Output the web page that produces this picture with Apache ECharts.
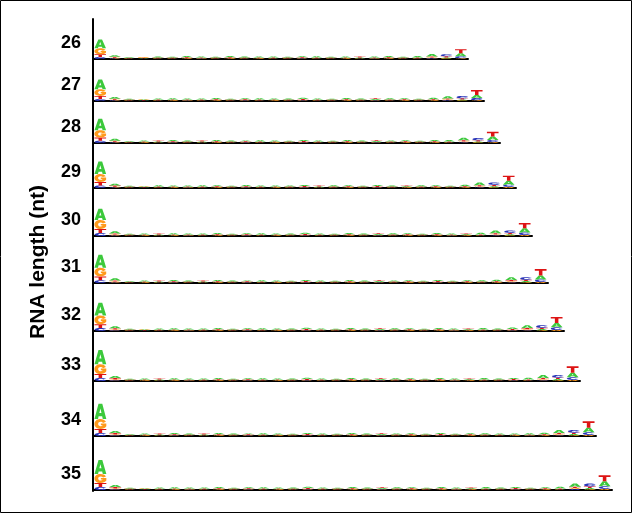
<!DOCTYPE html>
<html><head><meta charset="utf-8">
<script src="https://cdn.jsdelivr.net/npm/echarts@6/dist/echarts.min.js"></script>
<style>html,body{margin:0;padding:0;background:#fff}#c{width:632px;height:513px}</style>
</head><body><div id="c"></div>
<script>
// Row labels (RNA length, nt)
const rowLengths = [26, 27, 28, 29, 30, 31, 32, 33, 34, 35];
const letters = ['A', 'C', 'G', 'T'];
const axisTitle = 'RNA length (nt)';

// Information content (bits) per position: [A, C, G, T]
const logo26 = [
 [.55,.12,.38,.17],[.10,.03,.05,.06],
 [.04,.02,.03,.03],[.03,.02,.04,.03],[.06,.02,.03,.04],[.05,.02,.03,.04],[.07,.02,.04,.05],
 [.06,.03,.03,.04],[.05,.02,.03,.04],[.07,.02,.04,.05],[.06,.02,.03,.04],[.05,.02,.04,.04],
 [.06,.02,.03,.05],[.05,.02,.03,.04],[.06,.03,.04,.04],[.07,.02,.03,.05],[.05,.02,.03,.04],
 [.06,.02,.04,.04],[.05,.02,.03,.05],[.06,.03,.03,.04],[.07,.02,.04,.05],[.05,.02,.03,.04],
 [.09,.02,.03,.05],
 [.16,.04,.05,.07],[.06,.13,.04,.07],[.19,.12,.05,.25]
];
const logo27 = [
 [.60,.13,.42,.19],[.11,.03,.05,.06],
 [.05,.02,.03,.04],[.04,.02,.04,.03],[.06,.02,.03,.05],[.07,.02,.04,.04],[.05,.03,.03,.04],
 [.06,.02,.03,.05],[.08,.02,.04,.05],[.05,.02,.03,.04],[.06,.03,.04,.04],[.07,.02,.03,.05],
 [.05,.02,.04,.04],[.06,.02,.03,.04],[.08,.03,.04,.05],[.06,.02,.03,.05],[.05,.02,.03,.04],
 [.07,.02,.04,.05],[.06,.02,.03,.04],[.05,.03,.04,.05],[.08,.02,.03,.04],[.06,.02,.04,.05],
 [.05,.02,.03,.04],[.09,.02,.04,.05],
 [.15,.04,.05,.06],[.06,.14,.04,.07],[.20,.13,.05,.30]
];
const logo28 = [
 [.72,.14,.45,.20],[.12,.03,.05,.06],
 [.04,.02,.03,.03],[.06,.02,.04,.04],[.05,.02,.03,.05],[.07,.03,.04,.04],[.06,.02,.03,.04],
 [.05,.02,.03,.05],[.08,.02,.04,.05],[.06,.02,.03,.04],[.05,.03,.04,.04],[.07,.02,.03,.05],
 [.06,.02,.04,.04],[.05,.02,.03,.04],[.07,.03,.04,.05],[.06,.02,.03,.05],[.05,.02,.03,.04],
 [.08,.02,.04,.05],[.06,.02,.03,.04],[.05,.03,.04,.05],[.07,.02,.03,.04],[.06,.02,.04,.05],
 [.05,.02,.03,.04],[.07,.02,.04,.05],[.09,.02,.03,.05],
 [.16,.05,.05,.07],[.06,.14,.04,.07],[.21,.14,.05,.30]
];
const logo29 = [
 [.78,.16,.50,.22],[.12,.03,.05,.07],
 [.05,.02,.03,.04],[.04,.02,.04,.03],[.07,.02,.03,.05],[.06,.02,.04,.04],[.05,.03,.03,.04],
 [.07,.02,.03,.05],[.06,.02,.04,.05],[.05,.02,.03,.04],[.08,.03,.04,.04],[.06,.02,.03,.05],
 [.05,.02,.04,.04],[.07,.02,.03,.04],[.06,.03,.04,.05],[.05,.02,.03,.05],[.08,.02,.03,.04],
 [.06,.02,.04,.05],[.05,.02,.03,.04],[.07,.03,.04,.05],[.06,.02,.03,.04],[.05,.02,.04,.05],
 [.08,.02,.03,.04],[.06,.02,.04,.05],[.05,.02,.03,.04],[.10,.02,.04,.05],
 [.17,.05,.05,.07],[.07,.15,.04,.08],[.24,.15,.06,.32]
];
const logo30 = [
 [.70,.19,.56,.25],[.13,.03,.06,.07],
 [.05,.02,.03,.04],[.06,.02,.04,.04],[.05,.02,.03,.05],[.07,.02,.04,.04],[.05,.03,.03,.04],
 [.06,.02,.03,.05],[.08,.02,.04,.05],[.05,.02,.03,.04],[.06,.03,.04,.04],[.07,.02,.03,.05],
 [.05,.02,.04,.04],[.06,.02,.03,.04],[.08,.03,.04,.05],[.06,.02,.03,.05],[.05,.02,.03,.04],
 [.07,.02,.04,.05],[.06,.02,.03,.04],[.05,.03,.04,.05],[.08,.02,.03,.04],[.06,.02,.04,.05],
 [.05,.02,.03,.04],[.07,.02,.04,.05],[.06,.03,.03,.04],[.05,.02,.04,.05],[.10,.02,.03,.05],
 [.17,.05,.05,.07],[.07,.15,.04,.08],[.26,.16,.06,.34]
];
const logo31 = [
 [.80,.17,.55,.24],[.13,.03,.06,.07],
 [.04,.02,.03,.03],[.06,.02,.04,.04],[.05,.02,.03,.05],[.07,.03,.04,.04],[.06,.02,.03,.04],
 [.05,.02,.03,.05],[.08,.02,.04,.05],[.06,.02,.03,.04],[.05,.03,.04,.04],[.07,.02,.03,.05],
 [.06,.02,.04,.04],[.05,.02,.03,.04],[.07,.03,.04,.05],[.06,.02,.03,.05],[.05,.02,.03,.04],
 [.08,.02,.04,.05],[.06,.02,.03,.04],[.05,.03,.04,.05],[.07,.02,.03,.04],[.06,.02,.04,.05],
 [.05,.02,.03,.04],[.07,.03,.04,.05],[.05,.02,.03,.04],[.06,.02,.04,.05],[.08,.02,.03,.04],
 [.09,.02,.04,.05],
 [.18,.05,.06,.07],[.07,.16,.05,.08],[.25,.16,.06,.40]
];
const logo32 = [
 [.80,.18,.55,.24],[.13,.04,.06,.07],
 [.05,.02,.03,.04],[.04,.02,.04,.03],[.06,.02,.03,.05],[.07,.02,.04,.04],[.05,.03,.03,.04],
 [.06,.02,.03,.05],[.08,.02,.04,.05],[.05,.02,.03,.04],[.06,.03,.04,.04],[.07,.02,.03,.05],
 [.05,.02,.04,.04],[.06,.02,.03,.04],[.08,.03,.04,.05],[.06,.02,.03,.05],[.05,.02,.03,.04],
 [.07,.02,.04,.05],[.06,.02,.03,.04],[.05,.03,.04,.05],[.08,.02,.03,.04],[.06,.02,.04,.05],
 [.05,.02,.03,.04],[.07,.02,.04,.05],[.06,.03,.03,.04],[.05,.02,.04,.05],[.09,.02,.03,.05],
 [.06,.02,.03,.04],[.10,.03,.04,.05],
 [.18,.05,.06,.07],[.07,.16,.05,.08],[.27,.17,.06,.38]
];
const logo33 = [
 [.90,.19,.60,.25],[.14,.04,.06,.08],
 [.05,.02,.03,.04],[.06,.02,.04,.04],[.05,.02,.03,.05],[.07,.02,.04,.04],[.05,.03,.03,.04],
 [.06,.02,.03,.05],[.08,.02,.04,.05],[.05,.02,.03,.04],[.06,.03,.04,.04],[.07,.02,.03,.05],
 [.05,.02,.04,.04],[.06,.02,.03,.04],[.08,.03,.04,.05],[.06,.02,.03,.05],[.05,.02,.03,.04],
 [.07,.02,.04,.05],[.06,.02,.03,.04],[.05,.03,.04,.05],[.08,.02,.03,.04],[.06,.02,.04,.05],
 [.05,.02,.03,.04],[.07,.02,.04,.05],[.06,.03,.03,.04],[.05,.02,.04,.05],[.09,.02,.03,.05],
 [.06,.02,.03,.04],[.07,.03,.04,.05],[.10,.02,.03,.05],
 [.19,.05,.06,.08],[.08,.17,.05,.08],[.28,.18,.06,.40]
];
const logo34 = [
 [.95,.19,.62,.25],[.14,.04,.06,.08],
 [.04,.02,.03,.03],[.06,.02,.04,.04],[.05,.02,.03,.05],[.07,.03,.04,.04],[.06,.02,.03,.04],
 [.05,.02,.03,.05],[.08,.02,.04,.05],[.06,.02,.03,.04],[.05,.03,.04,.04],[.07,.02,.03,.05],
 [.06,.02,.04,.04],[.05,.02,.03,.04],[.07,.03,.04,.05],[.06,.02,.03,.05],[.05,.02,.03,.04],
 [.08,.02,.04,.05],[.06,.02,.03,.04],[.05,.03,.04,.05],[.07,.02,.03,.04],[.06,.02,.04,.05],
 [.05,.02,.03,.04],[.07,.03,.04,.05],[.05,.02,.03,.04],[.06,.02,.04,.05],[.08,.02,.03,.04],
 [.06,.02,.03,.05],[.05,.02,.04,.04],[.07,.03,.03,.04],[.10,.02,.04,.05],
 [.19,.05,.06,.08],[.08,.17,.05,.08],[.28,.18,.06,.40]
];
const logo35 = [
 [.88,.19,.56,.25],[.14,.04,.06,.08],
 [.05,.02,.03,.04],[.04,.02,.04,.03],[.06,.02,.03,.05],[.07,.02,.04,.04],[.05,.03,.03,.04],
 [.06,.02,.03,.05],[.08,.02,.04,.05],[.05,.02,.03,.04],[.06,.03,.04,.04],[.07,.02,.03,.05],
 [.05,.02,.04,.04],[.06,.02,.03,.04],[.08,.03,.04,.05],[.06,.02,.03,.05],[.05,.02,.03,.04],
 [.07,.02,.04,.05],[.06,.02,.03,.04],[.05,.03,.04,.05],[.08,.02,.03,.04],[.06,.02,.04,.05],
 [.05,.02,.03,.04],[.07,.02,.04,.05],[.06,.03,.03,.04],[.05,.02,.04,.05],[.09,.02,.03,.05],
 [.06,.02,.03,.04],[.07,.03,.04,.05],[.05,.02,.03,.04],[.06,.02,.04,.05],[.10,.02,.03,.05],
 [.20,.06,.06,.08],[.08,.18,.05,.09],[.30,.18,.06,.38]
];
const logos = [logo26, logo27, logo28, logo29, logo30, logo31, logo32, logo33, logo34, logo35];

// ---- layout & style ----
const BASELINES = [59, 101, 143, 188, 236, 283, 331, 381, 436, 490];
const AXIS_X = 93, ROW_H = 32, YMAX = 2;
const COLORS = { A: '#3cc93c', C: '#2a35b8', G: '#ff9a1c', T: '#dd1414' };
const PATHS = {
  A: 'M34,0 L66,0 L100,100 L70,100 L65,82 L35,82 L30,100 L0,100 Z M41,60 L59,60 L50,30 Z',
  C: 'M97,28 C86,8 70,0 50,0 C20,0 0,22 0,50 C0,78 20,100 50,100 C70,100 86,92 97,72 L72,60 C68,68 61,72 52,72 C40,72 31,63 31,50 C31,37 40,28 52,28 C61,28 68,32 72,40 Z',
  G: 'M97,28 C86,8 70,0 50,0 C20,0 0,22 0,50 C0,78 20,100 50,100 C72,100 90,90 100,72 L100,44 L54,44 L54,62 L70,62 C66,69 60,73 52,73 C40,73 31,63 31,50 C31,37 40,28 52,28 C61,28 68,32 72,40 Z',
  T: 'M0,0 L100,0 L100,28 L65,28 L65,100 L35,100 L35,28 L0,28 Z'
};
const FONT = '"Liberation Sans", Arial, sans-serif';

function renderLogo(params, api) {
  const pos = api.value(0);
  const vals = [api.value(1), api.value(2), api.value(3), api.value(4)];
  const order = [0, 1, 2, 3].sort((a, b) => vals[a] - vals[b]);
  const cx = api.coord([pos, 0])[0];
  const w = api.size([1, 0])[0] * 0.8;
  let cum = 0;
  const children = [];
  order.forEach(i => {
    const y0 = api.coord([pos, cum])[1];
    cum += vals[i];
    const y1 = api.coord([pos, cum])[1];
    const L = letters[i];
    children.push({
      type: 'path',
      shape: { pathData: PATHS[L], x: cx - w / 2, y: y1, width: w, height: Math.max(y0 - y1, 0.3), layout: 'cover' },
      style: { fill: COLORS[L] }
    });
  });
  return { type: 'group', children };
}

const grids = [], xAxes = [], yAxes = [], series = [];
rowLengths.forEach((n, i) => {
  const end = 52 + 16 * n;
  grids.push({ left: AXIS_X, top: BASELINES[i] - ROW_H, width: end - AXIS_X, height: ROW_H });
  xAxes.push({
    gridIndex: i, type: 'value', min: 0.5, max: n + 0.5,
    axisLine: { show: true, onZero: false, lineStyle: { color: '#000', width: 2 } },
    axisTick: { show: false }, axisLabel: { show: false }, splitLine: { show: false }
  });
  yAxes.push({
    gridIndex: i, type: 'value', min: 0, max: YMAX, interval: 1,
    axisLine: { show: false }, axisTick: { show: false }, splitLine: { show: false },
    axisLabel: {
      formatter: v => (v === 1 ? String(n) : ''),
      fontSize: 18, fontWeight: 'bold', color: '#000', fontFamily: FONT, margin: 12
    }
  });
  series.push({
    type: 'custom', xAxisIndex: i, yAxisIndex: i, silent: true, clip: false,
    renderItem: renderLogo,
    data: logos[i].map((t, k) => [k + 1, t[0], t[1], t[2], t[3]])
  });
});
// full-height vertical axis line
const gi = rowLengths.length;
grids.push({ left: AXIS_X, top: 19, width: 1, bottom: 513 - 491 });
xAxes.push({ gridIndex: gi, type: 'value', show: false });
yAxes.push({
  gridIndex: gi, type: 'value', min: 0, max: 1,
  axisLine: { show: true, lineStyle: { color: '#000', width: 2 } },
  axisTick: { show: false }, axisLabel: { show: false }, splitLine: { show: false }
});
// axis title (centered a bit lower than the axis line)
grids.push({ left: AXIS_X, top: 33, width: 1, bottom: 513 - 491 });
xAxes.push({ gridIndex: gi + 1, type: 'value', show: false });
yAxes.push({
  gridIndex: gi + 1, type: 'value', min: 0, max: 1,
  axisLine: { show: false }, axisTick: { show: false }, axisLabel: { show: false }, splitLine: { show: false },
  name: axisTitle, nameLocation: 'middle', nameRotate: 90, nameGap: 44,
  nameTextStyle: { fontSize: 21, fontWeight: 'bold', color: '#000', fontFamily: FONT }
});

const chart = echarts.init(document.getElementById('c'), null, { renderer: 'canvas' });
chart.setOption({
  animation: false,
  backgroundColor: '#fff',
  grid: grids, xAxis: xAxes, yAxis: yAxes, series,
  graphic: [{ type: 'rect', shape: { x: 0.5, y: 0.5, width: 631, height: 512 }, style: { fill: 'none', stroke: '#000', lineWidth: 1 }, silent: true }]
});
</script></body></html>
